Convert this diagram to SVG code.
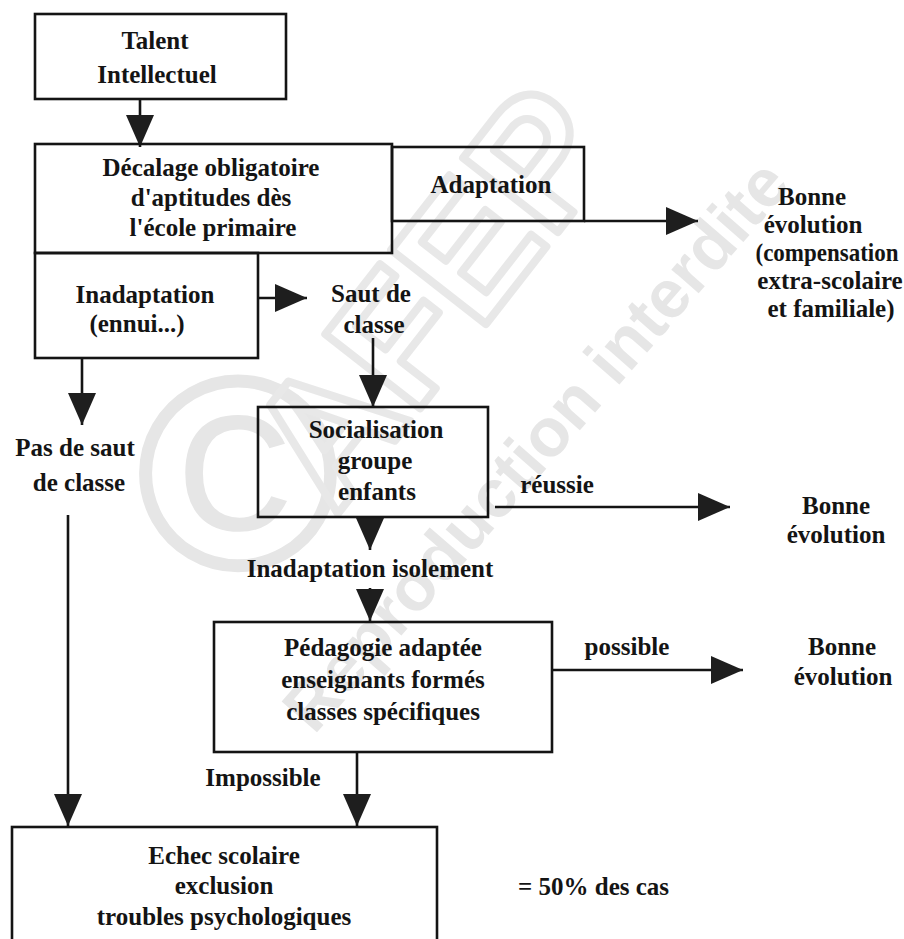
<svg xmlns="http://www.w3.org/2000/svg" width="904" height="939" viewBox="0 0 904 939">
<style>
.box{fill:none;stroke:#141414;stroke-width:2.6}
.ln{fill:none;stroke:#141414;stroke-width:2.6}
.t{font-family:"Liberation Serif","Times New Roman",serif;font-weight:bold;font-size:25px;fill:#141414;text-anchor:middle}
.wm{font-family:"Liberation Sans",Arial,sans-serif;fill:#e6e6e6}
.wmo{font-family:"Liberation Sans",Arial,sans-serif;font-weight:bold;fill:none;stroke:#e8e8e8;stroke-width:8;stroke-linejoin:round}
</style>
<defs>
<marker id="ah" markerUnits="userSpaceOnUse" markerWidth="34" markerHeight="30" refX="32" refY="14" orient="auto">
<path d="M0,0 L32,14 L0,28 Z" fill="#1e1e1e"/>
</marker>
</defs>
<rect width="904" height="939" fill="#ffffff"/>
<g id="watermark">
<text class="wm" x="0" y="24" font-size="68" font-weight="bold" text-anchor="middle" transform="translate(535,445) rotate(-49)">Reproduction interdite</text>
<text class="wm" x="238" y="570" font-size="280" text-anchor="middle">©</text>
<text class="wmo" x="0" y="62" font-size="175" text-anchor="middle" transform="translate(430,295) rotate(-52)">AFEP</text>
</g>
<g id="connectors">
<path class="ln" d="M140,99 V147" marker-end="url(#ah)"/>
<path class="ln" d="M584,221 H698" marker-end="url(#ah)"/>
<path class="ln" d="M258,298 H307" marker-end="url(#ah)"/>
<path class="ln" d="M82,358 V425" marker-end="url(#ah)"/>
<path class="ln" d="M373,338 V407" marker-end="url(#ah)"/>
<path class="ln" d="M495,507 H730" marker-end="url(#ah)"/>
<path class="ln" d="M370,517 V550" marker-end="url(#ah)"/>
<path class="ln" d="M370,588 V621" marker-end="url(#ah)"/>
<path class="ln" d="M552,670 H743" marker-end="url(#ah)"/>
<path class="ln" d="M68,515 V826" marker-end="url(#ah)"/>
<path class="ln" d="M357,752 V826" marker-end="url(#ah)"/>
</g>
<g id="talent">
<rect class="box" x="35" y="14" width="251" height="85"/>
<text class="t" x="155" y="49">Talent</text>
<text class="t" x="157" y="83">Intellectuel</text>
</g>
<g id="decalage">
<rect class="box" x="35" y="144" width="357" height="109"/>
<text class="t" x="211" y="176">Décalage obligatoire</text>
<text class="t" x="211" y="206">d'aptitudes dès</text>
<text class="t" x="213" y="236">l'école primaire</text>
</g>
<g id="adaptation">
<rect class="box" x="392" y="147" width="192" height="74"/>
<text class="t" x="491" y="193" font-size="28">Adaptation</text>
</g>
<g id="bonne1">
<text class="t" x="812" y="205">Bonne</text>
<text class="t" x="813" y="233">évolution</text>
<text class="t" x="827" y="261" textLength="143" lengthAdjust="spacingAndGlyphs">(compensation</text>
<text class="t" x="830" y="289">extra-scolaire</text>
<text class="t" x="831" y="317">et familiale)</text>
</g>
<g id="inadaptation">
<rect class="box" x="35" y="253" width="223" height="105"/>
<text class="t" x="145" y="303">Inadaptation</text>
<text class="t" x="137" y="332">(ennui...)</text>
</g>
<g id="saut">
<text class="t" x="371" y="302">Saut de</text>
<text class="t" x="374" y="333">classe</text>
</g>
<g id="pas-saut">
<text class="t" x="75" y="456">Pas de saut</text>
<text class="t" x="79" y="491">de classe</text>
</g>
<g id="socialisation">
<rect class="box" x="258" y="407" width="230" height="110"/>
<text class="t" x="376" y="438">Socialisation</text>
<text class="t" x="375" y="469">groupe</text>
<text class="t" x="377" y="500">enfants</text>
</g>
<g id="label-reussie"><text class="t" x="557" y="493">réussie</text></g>
<g id="bonne2">
<text class="t" x="836" y="514">Bonne</text>
<text class="t" x="836" y="543">évolution</text>
</g>
<g id="inadaptation-isolement"><text class="t" x="370" y="577">Inadaptation isolement</text></g>
<g id="pedagogie">
<rect class="box" x="214" y="622" width="338" height="130"/>
<text class="t" x="383" y="656">Pédagogie adaptée</text>
<text class="t" x="383" y="688">enseignants formés</text>
<text class="t" x="383" y="720">classes spécifiques</text>
</g>
<g id="label-possible"><text class="t" x="627" y="655">possible</text></g>
<g id="bonne3">
<text class="t" x="842" y="655">Bonne</text>
<text class="t" x="843" y="685">évolution</text>
</g>
<g id="label-impossible"><text class="t" x="263" y="786">Impossible</text></g>
<g id="echec">
<rect class="box" x="12" y="827" width="425" height="130"/>
<text class="t" x="224" y="864">Echec scolaire</text>
<text class="t" x="224" y="894">exclusion</text>
<text class="t" x="224" y="925">troubles psychologiques</text>
</g>
<g id="cas"><text class="t" x="518" y="895" style="text-anchor:start">= 50% des cas</text></g>
</svg>
